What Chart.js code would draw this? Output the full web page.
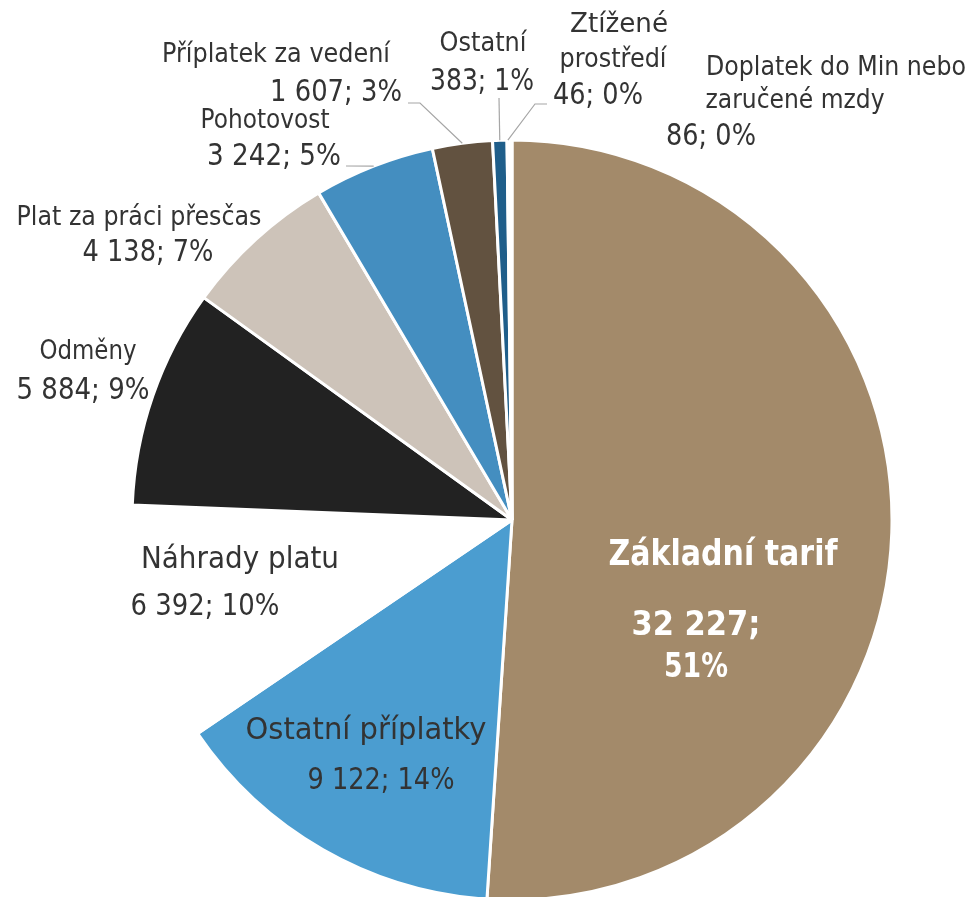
<!DOCTYPE html>
<html>
<head>
<meta charset="utf-8">
<script src="https://cdn.jsdelivr.net/npm/chart.js@4.4.0/dist/chart.umd.min.js"></script>
<style>
  html, body { margin: 0; padding: 0; background: #fff; }
  #wrap { width: 972px; height: 897px; }
</style>
</head>
<body>
<div id="wrap"><canvas id="chart" width="972" height="897"></canvas></div>
<script>
const categories = [
  "Základní tarif",
  "Ostatní příplatky",
  "Náhrady platu",
  "Odměny",
  "Plat za práci přesčas",
  "Pohotovost",
  "Příplatek za vedení",
  "Ostatní",
  ["Ztížené", "prostředí"],
  ["Doplatek do Min nebo", "zaručené mzdy"],
];
const values = [32227, 9122, 6392, 5884, 4138, 3242, 1607, 383, 46, 86];
const colors = [
  "#A38A6A", "#4B9DD0", "#FFFFFF", "#222222", "#CDC3B9",
  "#448EC0", "#625240", "#1F5E8A", "#FFFFFF", "#FFFFFF",
];

// label placement: rows = [centerX, centerY, width] for each text line
const labelLayout = [
  { color: "#fff", bold: true, nameSize: 35, valueSize: 34, split: true,
    rows: [[723, 556, 229], [696, 626, 129], [696, 668, 64]] },
  { nameSize: 31, valueSize: 31, rows: [[366, 731, 241], [381, 781, 147]] },
  { nameSize: 30, valueSize: 31, rows: [[240, 560, 198], [205, 607, 149]] },
  { nameSize: 26, valueSize: 31, rows: [[88, 352, 97], [83, 391, 133]] },
  { nameSize: 26, valueSize: 31, rows: [[139, 218, 245], [148, 253, 131]] },
  { nameSize: 26, valueSize: 31, rows: [[265, 121, 129], [274, 157, 134]],
    leader: [[346, 166]] },
  { nameSize: 26, valueSize: 31, rows: [[276, 55, 228], [336, 93, 132]],
    leader: [[408, 103], [420, 103]] },
  { nameSize: 26, valueSize: 31, rows: [[483, 44, 87], [482, 82, 104]],
    leader: [[499, 98]] },
  { nameSize: 26, valueSize: 31, rows: [[619, 25, 98], [613, 60, 107], [598, 96, 90]],
    leader: [[547, 104], [535, 104]] },
  { nameSize: 26, valueSize: 31, rows: [[836, 68, 260], [795, 101, 179], [711, 137, 90]] },
];

const FONT = '"DejaVu Sans", sans-serif';
const total = values.reduce((a, b) => a + b, 0);
const fmt = (v) => String(v).replace(/\B(?=(\d{3})+(?!\d))/g, " ");

const pieLabels = {
  id: "pieLabels",
  afterDatasetsDraw(chart) {
    const ctx = chart.ctx;
    const meta = chart.getDatasetMeta(0);
    meta.data.forEach((arc, i) => {
      const lay = labelLayout[i];
      const v = values[i];
      const pct = Math.round((v / total) * 100) + "%";
      const nameLines = [].concat(categories[i]);
      const valueLines = lay.split ? [fmt(v) + ";", pct] : [fmt(v) + "; " + pct];
      const lines = nameLines.map((t) => [t, lay.nameSize])
        .concat(valueLines.map((t) => [t, lay.valueSize]));

      ctx.save();
      ctx.fillStyle = lay.color || "#333333";
      ctx.textAlign = "center";
      ctx.textBaseline = "middle";
      lines.forEach(([text, size], k) => {
        const [cx, cy, w] = lay.rows[k];
        ctx.font = (lay.bold ? "bold " : "") + size + "px " + FONT;
        const mw = ctx.measureText(text).width;
        ctx.save();
        ctx.translate(cx, cy);
        ctx.scale(w / mw, 1);
        ctx.fillText(text, 0, 0);
        ctx.restore();
      });

      if (lay.leader) {
        const mid = (arc.startAngle + arc.endAngle) / 2;
        const px = arc.x + Math.cos(mid) * arc.outerRadius;
        const py = arc.y + Math.sin(mid) * arc.outerRadius;
        ctx.strokeStyle = "#A6A6A6";
        ctx.lineWidth = 1.2;
        ctx.beginPath();
        lay.leader.forEach(([x, y], k) => (k ? ctx.lineTo(x, y) : ctx.moveTo(x, y)));
        ctx.lineTo(px, py);
        ctx.stroke();
      }
      ctx.restore();
    });
  },
};

new Chart(document.getElementById("chart"), {
  type: "pie",
  data: {
    labels: categories,
    datasets: [
      {
        data: values,
        backgroundColor: colors,
        borderColor: "#FFFFFF",
        borderWidth: 3,
      },
    ],
  },
  options: {
    responsive: false,
    animation: false,
    radius: 380,
    layout: { padding: { left: 52, right: 0, top: 143, bottom: 0 } },
    plugins: {
      legend: { display: false },
      tooltip: { enabled: false },
    },
  },
  plugins: [pieLabels],
});
</script>
</body>
</html>
